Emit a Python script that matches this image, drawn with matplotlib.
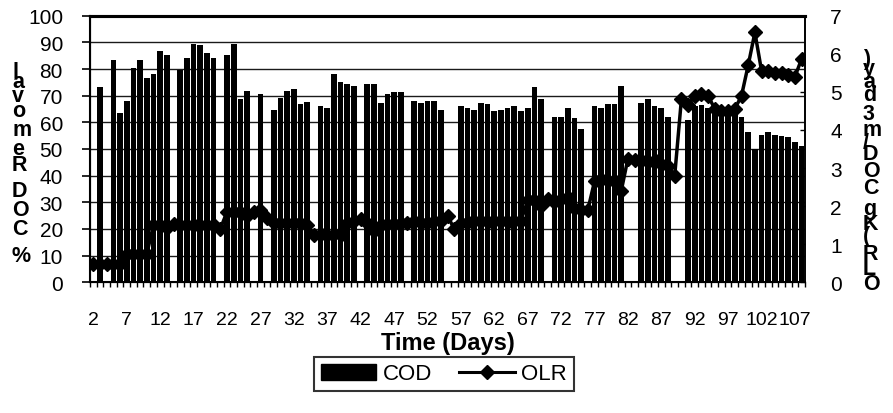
import matplotlib
matplotlib.use("Agg")
import matplotlib.pyplot as plt
import numpy as np
from matplotlib.patches import Patch
from matplotlib.lines import Line2D

plt.rcParams['font.family'] = ['Liberation Sans', 'DejaVu Sans']

# ---------------- data ----------------
first_day = 2
last_day = 108
days = list(range(first_day, last_day + 1))

cod_days = [3, 5, 6, 7, 8, 9, 10, 11, 12, 13,
            15, 16, 17, 18, 19, 20,
            22, 23, 24, 25,
            27,
            29, 30, 31, 32, 33, 34,
            36, 37, 38, 39, 40, 41,
            43, 44, 45, 46, 47, 48,
            50, 51, 52, 53, 54,
            57, 58, 59, 60, 61, 62, 63, 64, 65, 66, 67, 68, 69,
            71, 72, 73, 74, 75,
            77, 78, 79, 80, 81,
            84, 85, 86, 87, 88,
            91, 92, 93, 94, 95, 96, 97, 98, 99, 100, 101, 102, 103, 104, 105, 106, 107, 108]
cod_removal = [73.1, 83.5, 63.5, 68.0, 80.5, 83.5, 76.5, 78.0, 86.6, 85.3,
               79.6, 84.1, 89.4, 89.0, 86.0, 84.1,
               85.3, 89.4, 68.7, 71.7,
               70.6,
               64.7, 69.1, 71.7, 72.5, 66.9, 67.7,
               66.1, 65.4, 78.1, 75.2, 74.2, 73.6,
               74.2, 74.2, 67.1, 70.6, 71.2, 71.2,
               68.1, 67.2, 68.0, 68.0, 64.6,
               66.1, 65.4, 64.6, 67.3, 66.8, 64.1, 64.6, 65.4, 66.1, 64.1, 65.4, 73.1, 68.7,
               62.0, 62.0, 65.4, 61.6, 57.5,
               66.2, 65.4, 66.7, 66.7, 73.5,
               67.2, 68.7, 66.1, 65.4, 61.9,
               61.0, 66.0, 66.5, 65.5, 65.0, 65.0, 64.5, 64.0, 62.0, 56.5, 50.0, 55.2, 56.2, 55.2, 54.7, 54.4, 52.7, 51.2]

olr = [0.48, 0.48, 0.48, 0.48, 0.48,
       0.75, 0.75, 0.75, 0.75,
       1.50, 1.50, 1.42, 1.52, 1.50, 1.50, 1.50, 1.50, 1.50, 1.50, 1.40,
       1.85, 1.85, 1.85, 1.75, 1.85, 1.90, 1.70,
       1.57, 1.55, 1.55, 1.57, 1.55, 1.50,
       1.25, 1.27, 1.25, 1.27, 1.25,
       1.55, 1.60, 1.65, 1.55, 1.35, 1.50,
       1.53, 1.52, 1.55, 1.55, 1.60, 1.55, 1.55, 1.60, 1.60,
       1.75, 1.40,
       1.55, 1.58, 1.60, 1.60, 1.58, 1.60, 1.60, 1.58, 1.60, 1.62,
       2.15, 2.15, 2.00, 2.20, 2.10, 2.20, 2.25,
       1.95, 1.90, 1.90,
       2.65, 2.70, 2.65, 2.65,
       2.40,
       3.25, 3.20, 3.20, 3.15, 3.20, 3.10, 3.05,
       2.80,
       4.80, 4.65, 4.90, 4.95, 4.90,
       4.55, 4.50, 4.50, 4.55,
       4.90, 5.70, 6.56, 5.55, 5.55, 5.50, 5.50, 5.45, 5.40, 5.87]

left_title = "% COD Removal"
right_title = "OLR (Kg COD/m3 day)"
x_title = "Time (Days)"

# ---------------- figure ----------------
W, H = 893, 414
fig = plt.figure(figsize=(W / 100, H / 100), dpi=100)
PX = 72 / 100  # points per pixel

ax = fig.add_axes([90 / W, 1 - 283.3 / H, (805 - 90) / W, (283.3 - 16.7) / H])
ax2 = ax.twinx()

n = len(days)
x_cod = [d - first_day for d in cod_days]
ax.bar(x_cod, cod_removal, width=0.85, color='black', zorder=3)
ax.set_xlim(-0.5, n - 0.5)
ax.set_ylim(0, 100)
ax.set_yticks(range(0, 101, 10))
ax.grid(axis='y', color='#1a1a1a', lw=1.0, zorder=0)
ax.set_axisbelow(True)

ax.set_xticks(range(0, n, 5))
ax.set_xticklabels([str(days[i]) for i in range(0, n, 5)])
ax.set_xticks(np.arange(-0.5, n, 1.0), minor=True)
ax.tick_params(axis='x', which='major', length=0, pad=28.4 * PX, labelsize=14)
ax.tick_params(axis='x', which='minor', length=5 * PX, width=1, direction='out', color='black')
ax.tick_params(axis='y', which='major', length=8 * PX, width=1.2, direction='out', pad=19 * PX, labelsize=15)

for s in ['left', 'bottom']:
    ax.spines[s].set_linewidth(1.5)
ax.spines['top'].set_linewidth(2.2)
ax.spines['right'].set_linewidth(1.2)

ax2.plot(range(n), olr, color='black', lw=2.5, marker='D', markersize=7.5, zorder=5)
ax2.set_ylim(0, 7)
ax2.set_yticks(range(0, 8))
ax2.tick_params(axis='y', length=5 * PX, width=1, direction='in', pad=25 * PX, labelsize=15)
ax2.spines['right'].set_linewidth(1.2)
ax2.spines['top'].set_linewidth(2.2)

# stacked (upright glyph) axis titles, as in the original rendering
adv = {'%': .889, ' ': .278, 'C': .722, 'O': .778, 'D': .722, 'R': .722, 'e': .556,
       'm': .889, 'o': .611, 'v': .556, 'a': .556, 'l': .278, 'L': .611, '(': .333,
       'K': .722, 'g': .611, '/': .278, '3': .556, 'd': .611, 'y': .556, ')': .333}


def stacked(text, x_px, y_bottom_px, em_px, size):
    pos = y_bottom_px
    for ch in text:
        w = adv.get(ch, .556) * em_px
        c = pos - w / 2
        if ch != ' ':
            fig.text(x_px / W, 1 - c / H, ch, ha='left', va='center',
                     fontsize=size, fontweight='bold')
        pos -= w


stacked(left_title, 12, 257 + 0.4445 * 25.5, 25.5, 15.5)
stacked(right_title, 863, 285 + 0.389 * 22.4, 22.4, 15.5)

fig.text(447.5 / W, 1 - 344 / H, x_title, ha='center', va='center',
         fontsize=17, fontweight='bold')

handles = [Patch(facecolor='black', edgecolor='black', label='COD'),
           Line2D([], [], color='black', lw=2.2, marker='D', markersize=7, label='OLR')]
leg = fig.legend(handles=handles, loc='center', bbox_to_anchor=(444 / W, 1 - 375 / H),
                 ncol=2, frameon=True, fancybox=False, edgecolor='black', fontsize=16,
                 handlelength=2.5, handletextpad=0.3, columnspacing=1.2, borderpad=0.3,
                 borderaxespad=0)
leg.get_frame().set_linewidth(1.5)

fig.savefig('out.png', dpi=100)
